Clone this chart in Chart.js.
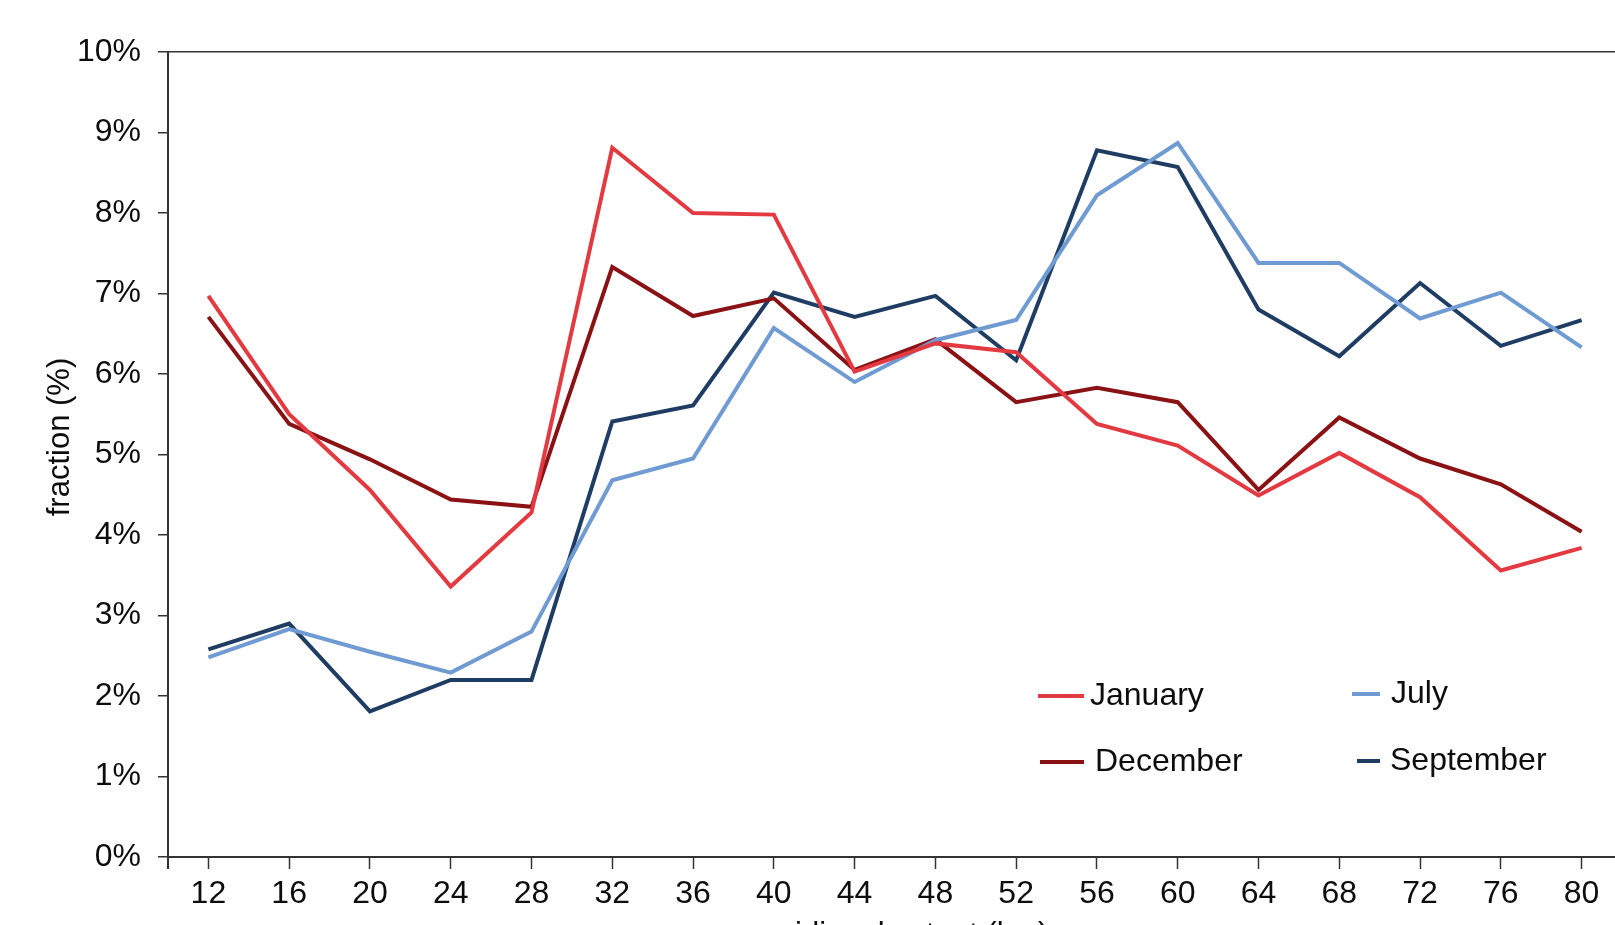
<!DOCTYPE html>
<html>
<head>
<meta charset="utf-8">
<script src="https://cdn.jsdelivr.net/npm/chart.js@4.4.1/dist/chart.umd.min.js"></script>
<style>
  html, body { margin: 0; padding: 0; background: #ffffff; overflow: hidden; }
  #wrap { position: absolute; left: 0; top: 0; width: 1640px; height: 960px; }
</style>
</head>
<body>
<div id="wrap"><canvas id="c" width="1640" height="960"></canvas></div>
<script>
// meridional extent categories (km)
const extentKm = ['12', '16', '20', '24', '28', '32', '36', '40', '44', '48', '52', '56', '60', '64', '68', '72', '76', '80'];

// fraction (%) per month
const january   = [6.97, 5.50, 4.56, 3.36, 4.28, 8.81, 8.00, 7.98, 6.03, 6.38, 6.27, 5.38, 5.11, 4.49, 5.02, 4.47, 3.56, 3.84];
const december  = [6.71, 5.38, 4.94, 4.44, 4.35, 7.33, 6.72, 6.94, 6.05, 6.43, 5.65, 5.83, 5.65, 4.56, 5.46, 4.95, 4.63, 4.04];
const july      = [2.48, 2.83, 2.55, 2.29, 2.80, 4.68, 4.95, 6.57, 5.90, 6.42, 6.67, 8.22, 8.87, 7.38, 7.38, 6.69, 7.01, 6.33];
const september = [2.58, 2.90, 1.81, 2.20, 2.20, 5.41, 5.61, 7.01, 6.71, 6.97, 6.17, 8.78, 8.57, 6.80, 6.22, 7.13, 6.35, 6.67];

// y axis tick values (%)
const yTickValues = [0, 1, 2, 3, 4, 5, 6, 7, 8, 9, 10];

const FONT = "'Liberation Sans', Arial, sans-serif";
const INK = '#0d0d0d';
const AXIS = '#333333';

// 2x2 legend drawn inside the plot area
const gridLegend = {
  id: 'gridLegend',
  afterDraw(chart, args, opts) {
    const ctx = chart.ctx;
    ctx.save();
    ctx.font = '32px ' + FONT;
    ctx.textBaseline = 'middle';
    ctx.textAlign = 'left';
    opts.items.forEach(item => {
      const ds = chart.data.datasets[item.index];
      ctx.strokeStyle = ds.borderColor;
      ctx.lineWidth = 4;
      ctx.beginPath();
      ctx.moveTo(item.x, item.y);
      ctx.lineTo(item.x + item.len, item.y);
      ctx.stroke();
      ctx.fillStyle = INK;
      ctx.fillText(ds.label, item.x + item.len + item.gap, item.y);
    });
    ctx.restore();
  }
};

// rotated y axis title, placed a little above the plot's mid-height
const yTitle = {
  id: 'yTitle',
  afterDraw(chart, args, opts) {
    const ctx = chart.ctx;
    ctx.save();
    ctx.font = opts.size + 'px ' + FONT;
    ctx.fillStyle = INK;
    ctx.textAlign = 'center';
    ctx.textBaseline = 'middle';
    ctx.translate(opts.x, opts.y);
    ctx.rotate(-Math.PI / 2);
    ctx.fillText(opts.text, 0, 0);
    ctx.restore();
  }
};

// short extension of the y axis below the x axis
const axisStub = {
  id: 'axisStub',
  afterDraw(chart) {
    const {ctx, chartArea} = chart;
    ctx.save();
    ctx.strokeStyle = AXIS;
    ctx.lineWidth = 2;
    ctx.beginPath();
    ctx.moveTo(chartArea.left, chartArea.bottom);
    ctx.lineTo(chartArea.left, chartArea.bottom + 12);
    ctx.stroke();
    ctx.restore();
  }
};

const lineStyle = { borderWidth: 4, pointRadius: 0, pointHoverRadius: 0, tension: 0, fill: false };

new Chart(document.getElementById('c'), {
  type: 'line',
  data: {
    labels: extentKm,
    datasets: [
      Object.assign({ label: 'January',   data: january,   borderColor: '#e23a40' }, lineStyle),
      Object.assign({ label: 'July',      data: july,      borderColor: '#6f9bd2' }, lineStyle),
      Object.assign({ label: 'December',  data: december,  borderColor: '#8a1214' }, lineStyle),
      Object.assign({ label: 'September', data: september, borderColor: '#1f3d63' }, lineStyle)
    ]
  },
  options: {
    responsive: false,
    animation: false,
    devicePixelRatio: 1,
    layout: { padding: { top: 52, right: 18, left: 0, bottom: 0 } },
    plugins: {
      legend: { display: false },
      tooltip: { enabled: false },
      yTitle: { text: 'fraction (%)', x: 60, y: 437, size: 31 },
      gridLegend: {
        items: [
          { index: 0, x: 1038, y: 696, len: 46, gap: 6 },
          { index: 1, x: 1352, y: 694, len: 28, gap: 11 },
          { index: 2, x: 1040, y: 762, len: 44, gap: 11 },
          { index: 3, x: 1357, y: 761, len: 23, gap: 10 }
        ]
      }
    },
    scales: {
      x: {
        type: 'category',
        offset: true,
        grid: {
          offset: false,
          drawOnChartArea: false,
          drawTicks: true,
          tickLength: 12,
          tickColor: AXIS,
          tickWidth: 1.5
        },
        border: { display: true, color: AXIS, width: 2 },
        ticks: {
          autoSkip: false,
          maxRotation: 0,
          padding: 6,
          color: INK,
          font: { family: FONT, size: 32 }
        },
        title: {
          display: true,
          text: 'meridional extent (km)',
          color: INK,
          font: { family: FONT, size: 31 },
          padding: { top: 0, bottom: 6 }
        },
        afterFit(scale) { scale.height = 103; }
      },
      y: {
        min: 0,
        max: 10,
        afterBuildTicks(scale) { scale.ticks = yTickValues.map(v => ({ value: v })); },
        grid: {
          color: ctx => (ctx.tick && ctx.tick.value === 10) ? AXIS : 'rgba(0,0,0,0)',
          lineWidth: 1.5,
          drawTicks: true,
          tickLength: 10,
          tickColor: AXIS,
          tickWidth: 1.5
        },
        border: { display: true, color: AXIS, width: 2 },
        ticks: {
          padding: 17,
          color: INK,
          font: { family: FONT, size: 32 },
          callback: v => v + '%'
        },
        title: { display: false },
        afterFit(scale) { scale.width = 168; }
      }
    }
  },
  plugins: [gridLegend, yTitle, axisStub]
});
</script>
</body>
</html>
